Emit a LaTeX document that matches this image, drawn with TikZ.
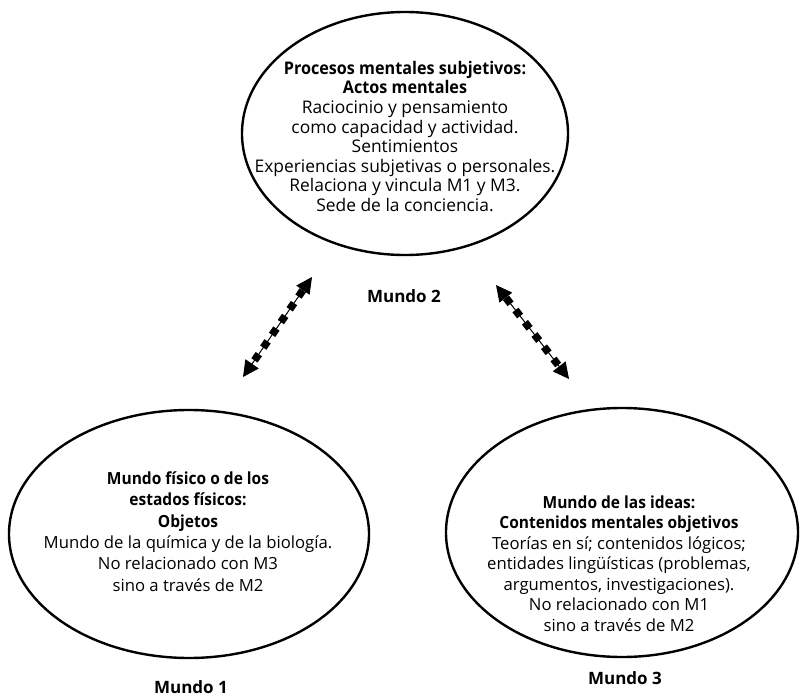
\documentclass[tikz,border=0pt]{standalone}
\usepackage{fontspec}
\setmainfont{Open Sans}
\newfontfamily\bodyfont{Open Sans}[BoldFeatures={FakeStretch=0.93}]
\usetikzlibrary{shapes.geometric,arrows.meta,decorations.markings}
\tikzset{
  world/.style={draw, ellipse, line width=2.4pt, inner sep=0pt},
  txt/.style={align=center, inner sep=0pt},
  worldlabel/.style={font=\bfseries\fontsize{17}{18}\selectfont, inner sep=0pt, anchor=base},
  dotarrow/.style={line width=1pt, {Triangle[length=16pt,width=16pt]}-{Triangle[length=16pt,width=16pt]},
    postaction={decorate},
    decoration={markings, mark=between positions 20pt and -18pt step 15.5pt with
      {\fill (-3.8pt,-3.8pt) rectangle (3.8pt,3.8pt);}}}
}
\begin{document}
\begin{tikzpicture}[x=1pt,y=-1pt]
\useasboundingbox (0,0) rectangle (801,696);
\node[world, minimum width=326pt, minimum height=243pt] (m2) at (405,133.5) {};
\node[world, minimum width=360pt, minimum height=248pt] (m1) at (189,534) {};
\node[world, minimum width=352pt, minimum height=249pt] (m3) at (622,532.5) {};

\node[txt, font=\bodyfont\fontsize{17.4}{19.6}\selectfont] (t2) at (405,136.5) {\textbf{Procesos mentales subjetivos:}\\\textbf{Actos mentales}\\Raciocinio y pensamiento\\como capacidad y actividad.\\Sentimientos\\Experiencias subjetivas o personales.\\Relaciona y vincula M1 y M3.\\Sede de la conciencia.};
\node[txt, font=\bodyfont\fontsize{16.7}{21.4}\selectfont] (t1) at (188,531.5) {\textbf{Mundo físico o de los}\\\textbf{estados físicos:}\\\textbf{Objetos}\\Mundo de la química y de la biología.\\No relacionado con M3\\sino a través de M2};
\node[txt, font=\bodyfont\fontsize{16.7}{20.5}\selectfont] (t3) at (619,563.5) {\textbf{Mundo de las ideas:}\\\textbf{Contenidos mentales objetivos}\\Teorías en sí; contenidos lógicos;\\entidades lingüísticas (problemas,\\argumentos, investigaciones).\\No relacionado con M1\\sino a través de M2};

\node[worldlabel] (l2) at (404,302) {Mundo 2};
\node[worldlabel] (l1) at (191,693) {Mundo 1};
\node[worldlabel] (l3) at (625,684) {Mundo 3};

\coordinate (a1) at (312,277);
\coordinate (b1) at (243,377);
\coordinate (a2) at (496,285);
\coordinate (b2) at (569,379);
\draw[dotarrow] (a1) -- (b1);
\draw[dotarrow] (a2) -- (b2);
\end{tikzpicture}
\end{document}
